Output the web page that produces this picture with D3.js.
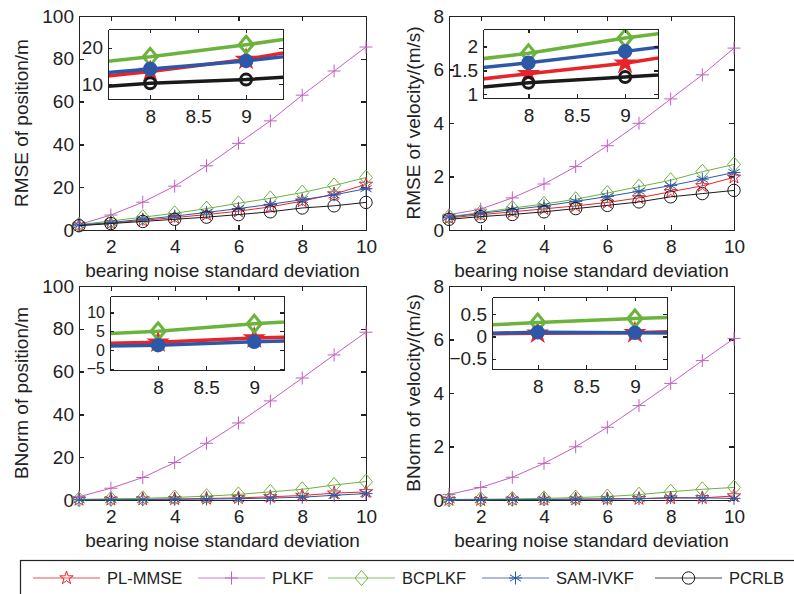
<!DOCTYPE html>
<html>
<head>
<meta charset="utf-8">
<title>Bearing noise comparison</title>
<script src="https://d3js.org/d3.v7.min.js"></script>
<style>
	body { margin: 0; background: #fff; }
	svg text { font-family: "Liberation Sans", Arial, sans-serif; fill: #222; }
	.axis path, .axis line { stroke: #222; stroke-width: 1.3; shape-rendering: crispEdges; }
	.axis text { font-size: 19px; }
</style>
</head>
<body>
<div id="plot"></div>
<script>
// x values (bearing noise standard deviation)
var sigma = [1, 2, 3, 4, 5, 6, 7, 8, 9, 10];
var names = ["PL-MMSE", "PLKF", "BCPLKF", "SAM-IVKF", "PCRLB"];
var colors = ["#e8242b", "#c45fbf", "#6cb33e", "#2d58a8", "#1a1a1a"];
var shapes = ["star", "plus", "diamond", "asterisk", "circle"];

// RMSE of position
var rposPLMMSE = [2.2, 3.2, 4.5, 5.8, 7.2, 8.8, 10.8, 13.5, 16.8, 21.3];
var rposPLKF   = [2.5, 7, 13, 20.5, 30, 40.5, 51, 63, 74.3, 85.5];
var rposBCPLKF = [2.5, 4.2, 6, 7.8, 10, 12.5, 14.8, 17.5, 20.8, 24.5];
var rposSAM    = [2.3, 3.5, 5, 6.5, 8.2, 10, 12, 14.2, 16.4, 19.3];
var rposPCRLB  = [2, 3, 4, 5, 6, 7.2, 8.5, 10.3, 11.3, 12.9];

// RMSE of velocity
var rvelPLMMSE = [0.45, 0.57, 0.68, 0.79, 0.9, 1.03, 1.2, 1.43, 1.65, 1.97];
var rvelPLKF   = [0.57, 0.78, 1.2, 1.72, 2.37, 3.15, 3.99, 4.9, 5.8, 6.8];
var rvelBCPLKF = [0.5, 0.65, 0.82, 0.97, 1.15, 1.38, 1.62, 1.86, 2.18, 2.45];
var rvelSAM    = [0.48, 0.62, 0.76, 0.9, 1.07, 1.25, 1.45, 1.66, 1.9, 2.15];
var rvelPCRLB  = [0.4, 0.5, 0.58, 0.68, 0.8, 0.92, 1.05, 1.24, 1.36, 1.48];

// BNorm of position
var bposPLMMSE = [0.2, 0.3, 0.4, 0.5, 0.7, 1, 1.5, 2.1, 3.2, 3.8];
var bposPLKF   = [1.5, 5.5, 10.5, 17.5, 26.5, 36, 46.3, 57, 67.8, 78.4];
var bposBCPLKF = [0.3, 0.5, 0.8, 1.2, 1.8, 2.6, 3.8, 5, 7, 8.6];
var bposSAM    = [0.1, 0.15, 0.2, 0.3, 0.45, 0.6, 0.9, 1.3, 2.2, 3];

// BNorm of velocity
var bvelPLMMSE = [0.01, 0.01, 0.02, 0.02, 0.03, 0.04, 0.05, 0.07, 0.08, 0.15];
var bvelPLKF   = [0.21, 0.47, 0.85, 1.37, 1.99, 2.72, 3.53, 4.36, 5.21, 6.04];
var bvelBCPLKF = [0.02, 0.03, 0.04, 0.06, 0.09, 0.13, 0.2, 0.31, 0.4, 0.47];
var bvelSAM    = [0.01, 0.01, 0.02, 0.02, 0.03, 0.04, 0.05, 0.09, 0.08, 0.06];

var w = 794, h = 594;
var svg = d3.select("#plot").append("svg").attr("width", w).attr("height", h);

var starSize = function(r) { return r * r / 0.8908130915292852; };

// draw one marker shape at the origin of g
function marker(g, k, big) {
	var c = colors[k], s = shapes[k];
	if (s === "star") {
		g.append("path").attr("d", d3.symbol(d3.symbolStar, starSize(big ? 9 : 7))())
			.attr("fill", big ? c : "none").attr("stroke", c).attr("stroke-width", big ? 2 : 1);
	} else if (s === "plus") {
		g.append("path").attr("d", "M-6.5,0H6.5M0,-6.5V6.5")
			.attr("stroke", c).attr("stroke-width", 1);
	} else if (s === "diamond") {
		var d = big ? "M0,-8.5L7,0L0,8.5L-7,0Z" : "M0,-7.5L6.5,0L0,7.5L-6.5,0Z";
		g.append("path").attr("d", d).attr("fill", "none").attr("stroke", c)
			.attr("stroke-width", big ? 3 : 1);
	} else if (s === "asterisk") {
		if (big) {
			g.append("circle").attr("r", 6.5).attr("fill", c).attr("stroke", c).attr("stroke-width", 1.5);
		} else {
			g.append("path").attr("d", "M0,-6.5V6.5M-5.6,-3.2L5.6,3.2M-5.6,3.2L5.6,-3.2M-6.5,0H6.5")
				.attr("stroke", c).attr("stroke-width", 1);
		}
	} else {
		g.append("circle").attr("r", big ? 5.5 : 6.2).attr("fill", "none").attr("stroke", c)
			.attr("stroke-width", big ? 3 : 1);
	}
}

var clipId = 0;

function drawPanel(cfg) {
	var g = svg.append("g");
	var x = d3.scaleLinear().domain([1, 10]).range([cfg.x0, cfg.x1]);
	var y = d3.scaleLinear().domain([0, cfg.ymax]).range([cfg.y1, cfg.y0]);
	var yt = d3.range(0, cfg.ymax + 1e-9, cfg.ystep);

	g.append("g").attr("class", "axis").attr("transform", "translate(0," + cfg.y1 + ")")
		.call(d3.axisBottom(x).tickValues([2, 4, 6, 8, 10]).tickSizeInner(-5).tickSizeOuter(0).tickPadding(10));
	g.append("g").attr("class", "axis").attr("transform", "translate(0," + cfg.y0 + ")")
		.call(d3.axisTop(x).tickValues([2, 4, 6, 8, 10]).tickSizeInner(-5).tickSizeOuter(0).tickFormat(""));
	g.append("g").attr("class", "axis").attr("transform", "translate(" + cfg.x0 + ",0)")
		.call(d3.axisLeft(y).tickValues(yt).tickSizeInner(-5).tickSizeOuter(0).tickPadding(5));
	g.append("g").attr("class", "axis").attr("transform", "translate(" + cfg.x1 + ",0)")
		.call(d3.axisRight(y).tickValues(yt).tickSizeInner(-5).tickSizeOuter(0).tickFormat(""));

	// axis titles
	g.append("text").attr("x", (cfg.x0 + cfg.x1) / 2).attr("y", cfg.y1 + 47)
		.attr("text-anchor", "middle").attr("font-size", 19).text("bearing noise standard deviation");
	g.append("text").attr("transform", "translate(" + cfg.ylx + "," + (cfg.y0 + cfg.y1) / 2 + ") rotate(-90)")
		.attr("text-anchor", "middle").attr("font-size", 19).text(cfg.ylabel);

	// series
	cfg.series.forEach(function(s) {
		var line = d3.line().x(function(d, i) { return x(sigma[i]); }).y(function(d) { return y(d); });
		g.append("path").datum(s.v).attr("d", line).attr("fill", "none")
			.attr("stroke", colors[s.k]).attr("stroke-width", 1);
		s.v.forEach(function(v, i) {
			marker(g.append("g").attr("transform", "translate(" + x(sigma[i]) + "," + y(v) + ")"), s.k, false);
		});
	});

	// zoomed inset
	var ins = cfg.inset;
	var ig = svg.append("g");
	var ix = d3.scaleLinear().domain(ins.xd).range([ins.l, ins.r]);
	var iy = d3.scaleLinear().domain(ins.yd).range([ins.b, ins.t]);
	var cid = "clip" + (clipId++);
	ig.append("clipPath").attr("id", cid).append("rect")
		.attr("x", ins.l).attr("y", ins.t).attr("width", ins.r - ins.l).attr("height", ins.b - ins.t);
	ig.append("rect").attr("x", ins.l).attr("y", ins.t).attr("width", ins.r - ins.l)
		.attr("height", ins.b - ins.t).attr("fill", "#fff");
	var body = ig.append("g").attr("clip-path", "url(#" + cid + ")");
	cfg.series.forEach(function(s) {
		var line = d3.line().x(function(d, i) { return ix(sigma[i]); }).y(function(d) { return iy(d); });
		body.append("path").datum(s.v).attr("d", line).attr("fill", "none")
			.attr("stroke", colors[s.k]).attr("stroke-width", 3.5);
		s.v.forEach(function(v, i) {
			if (sigma[i] < ins.xd[0] || sigma[i] > ins.xd[1]) return;
			marker(body.append("g").attr("transform", "translate(" + ix(sigma[i]) + "," + iy(v) + ")"), s.k, true);
		});
	});
	var fmt = d3.format("~g");
	ig.append("g").attr("class", "axis").attr("transform", "translate(0," + ins.b + ")")
		.call(d3.axisBottom(ix).tickValues([8, 8.5, 9]).tickSizeInner(-4).tickSizeOuter(0).tickPadding(11).tickFormat(fmt));
	ig.append("g").attr("class", "axis").attr("transform", "translate(0," + ins.t + ")")
		.call(d3.axisTop(ix).tickValues([8, 8.5, 9]).tickSizeInner(-4).tickSizeOuter(0).tickFormat(""));
	ig.append("g").attr("class", "axis").attr("transform", "translate(" + ins.l + ",0)")
		.call(d3.axisLeft(iy).tickValues(ins.yt).tickSizeInner(-4).tickSizeOuter(0).tickPadding(5).tickFormat(fmt))
		.selectAll("text").style("font-size", (ins.fs || 19) + "px");
	ig.append("g").attr("class", "axis").attr("transform", "translate(" + ins.r + ",0)")
		.call(d3.axisRight(iy).tickValues(ins.yt).tickSizeInner(-4).tickSizeOuter(0).tickFormat(""));
}

drawPanel({
	x0: 79, x1: 366, y0: 16, y1: 230, ymax: 100, ystep: 20, ylx: 28,
	ylabel: "RMSE of position/m",
	series: [{k: 0, v: rposPLMMSE}, {k: 1, v: rposPLKF}, {k: 2, v: rposBCPLKF}, {k: 3, v: rposSAM}, {k: 4, v: rposPCRLB}],
	inset: {l: 108, r: 283, t: 29, b: 99, xd: [7.56, 9.385], yd: [6, 25.1], yt: [10, 20]}
});
drawPanel({
	x0: 449, x1: 734, y0: 16, y1: 230, ymax: 8, ystep: 2, ylx: 420,
	ylabel: "RMSE of velocity/(m/s)",
	series: [{k: 0, v: rvelPLMMSE}, {k: 1, v: rvelPLKF}, {k: 2, v: rvelBCPLKF}, {k: 3, v: rvelSAM}, {k: 4, v: rvelPCRLB}],
	inset: {l: 483, r: 658, t: 29, b: 98, xd: [7.53, 9.34], yd: [0.92, 2.37], yt: [1, 1.5, 2]}
});
drawPanel({
	x0: 79, x1: 366, y0: 286, y1: 500, ymax: 100, ystep: 20, ylx: 28,
	ylabel: "BNorm of position/m",
	series: [{k: 0, v: bposPLMMSE}, {k: 1, v: bposPLKF}, {k: 2, v: bposBCPLKF}, {k: 3, v: bposSAM}],
	inset: {l: 110, r: 284, t: 296, b: 370, xd: [7.5, 9.31], yd: [-5.3, 14.4], yt: [-5, 0, 5, 10], fs: 16}
});
drawPanel({
	x0: 449, x1: 734, y0: 286, y1: 500, ymax: 8, ystep: 2, ylx: 420,
	ylabel: "BNorm of velocity/(m/s)",
	series: [{k: 0, v: bvelPLMMSE}, {k: 1, v: bvelPLKF}, {k: 2, v: bvelBCPLKF}, {k: 3, v: bvelSAM}],
	inset: {l: 492, r: 667, t: 297, b: 369, xd: [7.53, 9.33], yd: [-0.73, 0.88], yt: [-0.5, 0, 0.5]}
});

// legend
var lgX = [33, 198, 328, 482, 655];
var leg = svg.append("g");
leg.append("rect").attr("x", 20.5).attr("y", 560.5).attr("width", 790).attr("height", 50)
	.attr("fill", "#fff").attr("stroke", "#222").attr("stroke-width", 1.2);
names.forEach(function(n, k) {
	var x0 = lgX[k];
	leg.append("line").attr("x1", x0).attr("x2", x0 + 67).attr("y1", 578).attr("y2", 578)
		.attr("stroke", colors[k]).attr("stroke-width", 1).attr("stroke-opacity", 0.8);
	marker(leg.append("g").attr("transform", "translate(" + (x0 + 33.5) + ",578)"), k, false);
	leg.append("text").attr("x", x0 + 74).attr("y", 584).attr("font-size", 16.5).text(n);
});
</script>
</body>
</html>
